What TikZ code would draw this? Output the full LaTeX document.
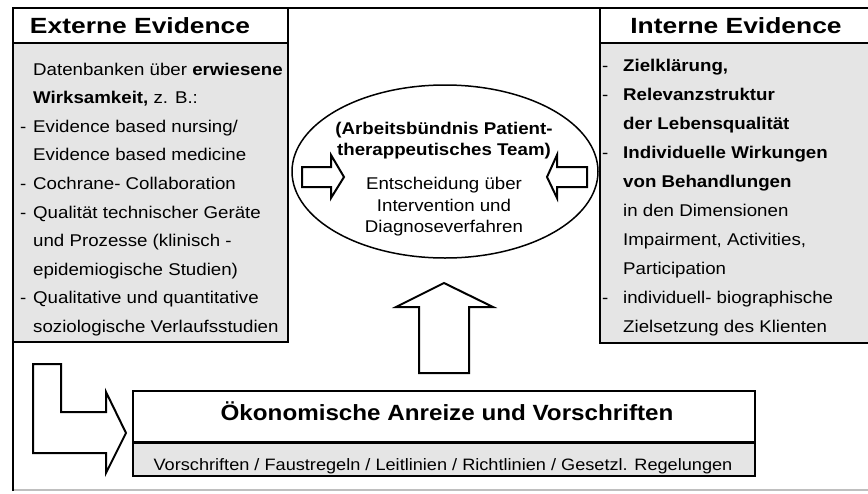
\documentclass[tikz,border=0pt]{standalone}
\usepackage{fontspec}
\setmainfont{Liberation Sans}[FakeStretch=1.1]
\newfontfamily\headfont{Liberation Sans}[FakeStretch=1.2]
\usepackage{xcolor}
\usepackage{tikz}
\usetikzlibrary{positioning, shapes}
\definecolor{boxgray}{gray}{0.9}
\newcommand{\Dash}[1][13pt]{\makebox[#1][l]{-}}
\newcommand{\Ind}[1][13pt]{\hspace*{#1}}
\tikzset{
  headbox/.style={draw, line width=2.5pt, fill=white, inner sep=0pt, outer sep=0pt, minimum height=35pt, font=\headfont\bfseries\fontsize{22}{24}\selectfont},
  bodybox/.style={draw, line width=2.5pt, fill=boxgray, inner sep=0pt, outer sep=0pt},
  listtext/.style={align=left, inner sep=0pt, anchor=base west, font=\fontsize{17}{28.6}\selectfont},
  blockarrow/.style={draw, line width=2pt, fill=white, line join=miter},
}

\begin{document}
\begin{tikzpicture}[x=1pt,y=-1pt]
\useasboundingbox (0,0) rectangle (868,493);
% outer frame
\draw[black!25, line width=1.5pt] (13,490) -- (875,490);
\draw[line width=2.5pt] (13,491) -- (13,8) -- (875,8);
% externe evidence (base = last line)
\node[headbox, minimum width=275pt, text width=241pt, inner xsep=17pt, align=left] (exthead) at (150.5,25.5) {Externe Evidence};
\node[bodybox, minimum width=275pt, minimum height=299pt, below=0pt of exthead] (extbody) {};
\node[listtext] (extlist) at (20,332.4) {\Ind Datenbanken über \textbf{erwiesene}\\
\Ind\textbf{Wirksamkeit,} z. B.:\\
\Dash Evidence based nursing/\\
\Ind Evidence based medicine\\
\Dash Cochrane- Collaboration\\
\Dash Qualität technischer Geräte\\
\Ind und Prozesse (klinisch -\\
\Ind epidemiogische Studien)\\
\Dash Qualitative und quantitative\\
\Ind soziologische Verlaufsstudien};
% interne evidence
\node[headbox, minimum width=272pt] (inthead) at (736,25.5) {Interne Evidence};
\node[bodybox, minimum width=272pt, minimum height=300pt, below=0pt of inthead] (intbody) {};
\node[listtext, font=\fontsize{17}{29}\selectfont] (intlist) at (602,332) {\Dash[21pt]\textbf{Zielklärung,}\\
\Dash[21pt]\textbf{Relevanzstruktur}\\
\Ind[21pt]\textbf{der Lebensqualität}\\
\Dash[21pt]\textbf{Individuelle Wirkungen}\\
\Ind[21pt]\textbf{von Behandlungen}\\
\Ind[21pt]in den Dimensionen\\
\Ind[21pt]Impairment, Activities,\\
\Ind[21pt]Participation\\
\Dash[21pt]individuell- biographische\\
\Ind[21pt]Zielsetzung des Klienten};
% decision ellipse
\node[draw, ellipse, line width=1.5pt, minimum width=306pt, minimum height=173pt, inner sep=0pt] (deci) at (445,171.5) {};
\node[align=center, inner sep=0pt, anchor=base, font=\fontsize{17}{21.5}\selectfont] (decitext) at (444,232.5) {\textbf{(Arbeitsbündnis Patient-}\\
\textbf{therappeutisches Team)}\\[12.5pt]
Entscheidung über\\
Intervention und\\
Diagnoseverfahren};
% arrows into ellipse
\draw[blockarrow] (302,167) -- (331,167) -- (331,155) -- (344,177) -- (331,198) -- (331,187) -- (302,187) -- cycle;
\draw[blockarrow] (587,167) -- (557,167) -- (557,155) -- (547,177) -- (557,198) -- (557,187) -- (587,187) -- cycle;
\draw[blockarrow] (419,373) -- (419,307) -- (396,307) -- (444,283) -- (493,307) -- (469,307) -- (469,373) -- cycle;
% oekonomische box
\node[draw, line width=2pt, fill=white, minimum width=622pt, minimum height=51pt, inner sep=0pt, outer sep=0pt] (oekobox) at (444,416.5) {};
\node[draw, line width=2pt, fill=boxgray, minimum width=622pt, minimum height=34pt, inner sep=0pt, outer sep=0pt, below=0pt of oekobox] (rulebox) {};
\draw[line width=3pt] (rulebox.north west) -- (rulebox.north east);
\node[anchor=base, inner sep=0pt, font=\bfseries\fontsize{22}{24}\selectfont] (oekotitle) at (447,420) {Ökonomische Anreize und Vorschriften};
\node[anchor=base, inner sep=0pt, font=\fontsize{16.5}{18}\selectfont] (ruletext) at (443,470) {Vorschriften / Faustregeln / Leitlinien / Richtlinien / Gesetzl. Regelungen};
% L-shaped arrow
\draw[blockarrow] (33,364) -- (61,364) -- (61,412) -- (106,412) -- (106,392) -- (126,433) -- (106,473) -- (106,453) -- (33,453) -- cycle;
\end{tikzpicture}
\end{document}
